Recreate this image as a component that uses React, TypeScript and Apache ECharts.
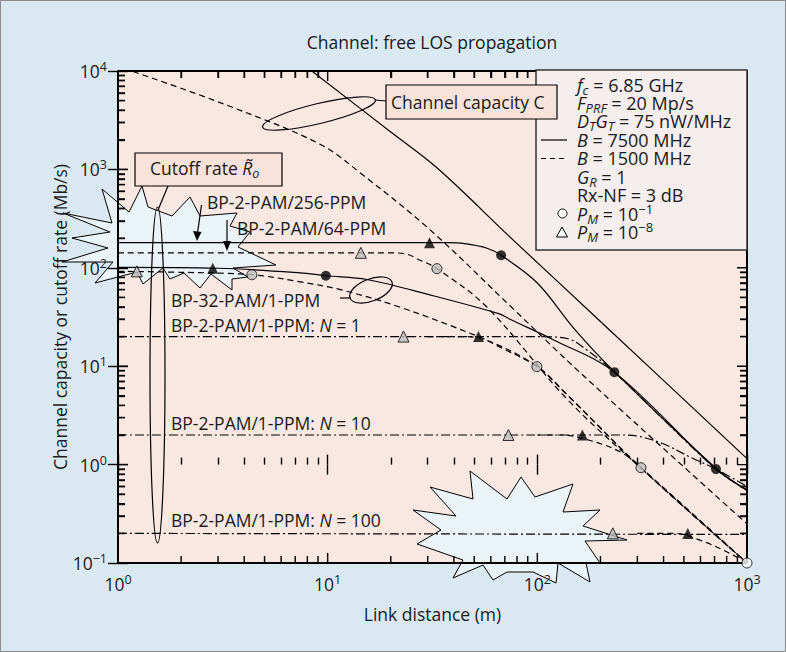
import { useEffect, useRef } from 'react';
import * as echarts from 'echarts';

type Pt = [number, number];

// ---------- data (x: link distance in m, y: Mb/s) ----------
const capacityB7500: Pt[] = [[8.4, 10000], [20, 2400], [33, 1050], [77, 190], [200, 28.5], [1000, 1.15]];
const capacityB1500: Pt[] = [[1.18, 9880], [3.3, 4500], [9.2, 1800], [15, 850], [31, 240], [77, 38], [160, 8.6], [1000, 0.25]];

const ppm256B7500: Pt[] = [[1, 180], [10, 180], [30, 180], [37, 180], [45, 176], [57.6, 158], [67.2, 134], [100, 70], [150, 24], [233, 8.8], [711, 0.92], [1000, 0.55]];
const pam32B7500: Pt[] = [[1, 101], [3, 99], [7.4, 89], [9.8, 83], [15.4, 76], [31.8, 52], [66, 34], [74, 30], [119, 18.6], [233, 8.7], [711, 0.9], [1000, 0.55]];
const n1B7500: Pt[] = [[1, 20], [30, 20], [100, 20], [140, 19], [173, 14.5], [233, 8.7], [711, 0.9], [1000, 0.55]];
const n10B7500: Pt[] = [[1, 2], [100, 2], [250, 2], [300, 1.95], [398, 1.63], [536, 1.19], [711, 0.9], [1000, 0.6]];
const n100B7500: Pt[] = [[1, 0.2], [1000, 0.195]];

const ppm64B1500: Pt[] = [[1, 142], [10, 142], [20, 142], [24, 137], [26.6, 124], [33.2, 98], [57.6, 39.7], [139, 4.6], [312, 0.92], [1000, 0.1]];
const pam32B1500: Pt[] = [[1, 92], [2, 90], [4.35, 85], [7.4, 72], [11.5, 60], [22, 40], [53, 19.8], [66, 15.7], [99.5, 9.9], [139, 5.1], [312, 0.93], [1000, 0.1]];
const n1B1500: Pt[] = [[30, 20], [45, 20], [57.6, 18.3], [99.5, 10], [139, 5.1], [312, 0.93], [1000, 0.1]];
const n10B1500: Pt[] = [[100, 2], [130, 2], [172, 1.8], [248, 1.35], [312, 0.93], [1000, 0.1]];
const n100B1500: Pt[] = [[300, 0.2], [450, 0.2], [600, 0.17], [800, 0.13], [1000, 0.1]];

// markers: P_M = 1e-8 (triangles), P_M = 1e-1 (circles)
const triB7500: Pt[] = [[2.83, 99], [30.6, 180], [52.4, 20], [164, 2], [522, 0.2]];
const triB1500: Pt[] = [[1.23, 92], [14.4, 142], [23, 20], [72.8, 2], [229, 0.2]];
const circB7500: Pt[] = [[9.8, 83], [67.2, 134], [233, 8.7], [711, 0.9]];
const circB1500: Pt[] = [[4.35, 85], [33.2, 98], [99.5, 9.9], [312, 0.93]];
const circOpen: Pt[] = [[1000, 0.1]];

const X_MIN = 1, X_MAX = 1000, Y_MIN = 0.1, Y_MAX = 10000;
const xTickValues: number[] = [];
for (const d of [1, 10, 100]) for (let m = 1; m <= 9; m++) xTickValues.push(m * d);
xTickValues.push(1000);
const yTickValues: number[] = [];
for (const d of [0.1, 1, 10, 100, 1000]) for (let m = 1; m <= 9; m++) yTickValues.push(+(m * d).toPrecision(3));
yTickValues.push(10000);

// layout
const GRID = { left: 118, top: 71, width: 629, height: 492 };
const X_DECADE_PX = GRID.width / Math.log10(X_MAX / X_MIN);
const Y_DECADE_PX = GRID.height / Math.log10(Y_MAX / Y_MIN);

const FONT = '"Open Sans", "Noto Sans", sans-serif';
const FS = 17.5;
const LFS = 18;
const INK = '#1a1a1a';

const RICH: any = {
  i: { fontStyle: 'italic', fontSize: FS, fontFamily: FONT, fill: INK, color: INK, lineHeight: 30 },
  sub: { fontStyle: 'italic', fontSize: 12.5, fontFamily: FONT, fill: INK, color: INK, verticalAlign: 'middle', padding: [10, 0, 0, 0] },
  sup: { fontSize: 12.5, fontFamily: FONT, fill: INK, color: INK, verticalAlign: 'middle', padding: [0, 0, 10, 0] },
};
const LRICH: any = {
  i: { ...RICH.i, fontSize: LFS },
  sub: { ...RICH.sub, fontSize: 13 },
  sup: { ...RICH.sup, fontSize: 13 },
};

const DASH = [6, 4];
const DASHDOT = [9, 3, 2, 3];

function lineSeries(name: string, data: Pt[], type: any) {
  return {
    type: 'line', name, data, symbol: 'none', showSymbol: false,
    smooth: 0.35, silent: true, z: 3,
    lineStyle: { color: '#000', width: 1.2, type },
  };
}

function isMajor(v: number) {
  const l = Math.log10(v);
  return Math.abs(l - Math.round(l)) < 1e-6;
}

function supFmt(v: number) {
  const e = Math.round(Math.log10(v));
  return '10{sup|' + (e < 0 ? '\u2212' + -e : String(e)) + '}';
}

function txt(x: number, y: number, text: string, extra: any = {}, z = 40) {
  return {
    type: 'text', x, y, z, silent: true,
    style: { text, fill: INK, fontSize: FS, fontFamily: FONT, verticalAlign: 'middle', align: 'left', lineHeight: 30, rich: RICH, ...extra },
  };
}
function ltxt(x: number, y: number, text: string) {
  return txt(x, y, text, { fontSize: LFS, rich: LRICH });
}

// tick marks, method 1: hidden linear axes over log10 space carrying the ticks as customValues
const xMajorExp = xTickValues.filter(isMajor).map((v) => Math.log10(v));
const xMinorExp = xTickValues.filter((v) => !isMajor(v)).map((v) => Math.log10(v));
const yMajorExp = yTickValues.filter(isMajor).map((v) => Math.log10(v));
const yMinorExp = yTickValues.filter((v) => !isMajor(v)).map((v) => Math.log10(v));
function tickAxis(min: number, max: number, position: string, values: number[], length: number) {
  return {
    type: 'value', min, max, position, z: 30, silent: true,
    axisLine: { show: false }, axisLabel: { show: false }, splitLine: { show: false },
    axisTick: { show: true, inside: true, length, customValues: values, lineStyle: { color: '#000', width: 1.4 } },
  };
}

// tick marks, method 2: one continuous polyline tracing the frame with a spike at every tick
function tickLen(v: number) { return isMajor(v) ? 10 : 7; }
const tickPath: Pt[] = [];
for (const v of xTickValues) {
  const f = Math.pow(10, tickLen(v) / Y_DECADE_PX);
  tickPath.push([v, Y_MIN], [v, Y_MIN * f], [v, Y_MIN]);
}
for (const v of yTickValues) {
  const f = Math.pow(10, tickLen(v) / X_DECADE_PX);
  tickPath.push([X_MAX, v], [X_MAX / f, v], [X_MAX, v]);
}
for (const v of [...xTickValues].reverse()) {
  const f = Math.pow(10, tickLen(v) / Y_DECADE_PX);
  tickPath.push([v, Y_MAX], [v, Y_MAX / f], [v, Y_MAX]);
}
for (const v of [...yTickValues].reverse()) {
  const f = Math.pow(10, tickLen(v) / X_DECADE_PX);
  tickPath.push([X_MIN, v], [X_MIN * f, v], [X_MIN, v]);
}
const frameData: Pt[] = [[X_MIN, Y_MIN], [X_MAX, Y_MIN], [X_MAX, Y_MAX], [X_MIN, Y_MAX], [X_MIN, Y_MIN]];

const starLeft = [[63, 213], [112, 223], [102, 189], [129, 212], [142, 186], [148, 207], [172, 216], [190, 197], [200, 216], [237, 213], [230, 226], [250, 232], [238, 247], [276, 265], [233, 268], [248, 277], [232, 279], [232, 290], [211, 274], [200, 288], [184, 273], [170, 279], [163, 268], [143, 284], [137, 272], [95, 283], [113, 262], [62, 262], [108, 248], [72, 238], [110, 232]];
const starBottom = [[430, 487], [473, 499], [470, 471], [507, 499], [521, 477], [535, 497], [573, 484], [563, 512], [600, 510], [583, 526], [627, 540], [585, 541], [600, 563], [586, 563], [590, 582], [558, 563], [556, 583], [533, 572], [507, 572], [493, 580], [483, 565], [453, 578], [463, 560], [417, 544], [441, 530], [413, 510], [456, 516]];

export default function App() {
  const ref = useRef<HTMLDivElement>(null);
  useEffect(() => {
    if (!ref.current) return;
    const chart = echarts.init(ref.current, undefined, { renderer: 'svg' });
    const axisLabel = {
      formatter: supFmt, fontSize: FS, fontFamily: FONT, color: INK, lineHeight: 22,
      showMinLabel: true, showMaxLabel: true,
      rich: { sup: { fontSize: 12.5, fontFamily: FONT, color: INK, lineHeight: 12, verticalAlign: 'top' } },
    };
    const graphic: any[] = [
      { type: 'rect', z: 50, silent: true, shape: { x: 0.5, y: 0.5, width: 785, height: 651 }, style: { fill: 'none', stroke: '#8a8a8a', lineWidth: 1 } },
      // starbursts
      { type: 'polygon', z: 1, silent: true, shape: { points: starLeft }, style: { fill: '#eaf3f7', stroke: '#000', lineWidth: 1 } },
      { type: 'polygon', z: 1, silent: true, shape: { points: starBottom }, style: { fill: '#eaf3f7', stroke: '#000', lineWidth: 1 } },
      // title
      txt(432, 42, 'Channel: free LOS propagation', { align: 'center' }),
      // legend box
      { type: 'rect', z: 35, silent: true, shape: { x: 536, y: 70, width: 211, height: 180 }, style: { fill: '#f6eeec', stroke: '#333', lineWidth: 1.5 } },
      ltxt(577, 85, '{i|f}{sub|c} = 6.85 GHz'),
      ltxt(577, 103, '{i|F}{sub|PRF} = 20 Mp/s'),
      ltxt(577, 121, '{i|D}{sub|T}{i|G}{sub|T} = 75 nW/MHz'),
      ltxt(577, 139.5, '{i|B} = 7500 MHz'),
      ltxt(577, 158, '{i|B} = 1500 MHz'),
      ltxt(577, 176.5, '{i|G}{sub|R} = 1'),
      ltxt(577, 195, 'Rx-NF = 3 dB'),
      ltxt(577, 213.5, '{i|P}{sub|M} = 10{sup|\u22121}'),
      ltxt(577, 232, '{i|P}{sub|M} = 10{sup|\u22128}'),
      { type: 'line', z: 40, silent: true, shape: { x1: 541, y1: 140, x2: 567, y2: 140 }, style: { stroke: '#000', lineWidth: 1.2 } },
      { type: 'line', z: 40, silent: true, shape: { x1: 541, y1: 158.5, x2: 567, y2: 158.5 }, style: { stroke: '#000', lineWidth: 1.2, lineDash: [5, 4] } },
      { type: 'circle', z: 40, silent: true, shape: { cx: 562.5, cy: 213.5, r: 4.5 }, style: { fill: '#fff', stroke: '#000', lineWidth: 1 } },
      { type: 'polygon', z: 40, silent: true, shape: { points: [[562, 227], [567.5, 237], [556.5, 237]] }, style: { fill: '#fff', stroke: '#000', lineWidth: 1 } },
      // channel capacity annotation
      { type: 'ellipse', z: 36, silent: true, x: 319, y: 113.5, rotation: 0.236, shape: { cx: 0, cy: 0, rx: 58, ry: 10 }, style: { fill: 'none', stroke: '#000', lineWidth: 1.2 } },
      { type: 'line', z: 36, silent: true, shape: { x1: 375, y1: 100, x2: 386, y2: 101 }, style: { stroke: '#000', lineWidth: 1.2 } },
      { type: 'rect', z: 37, silent: true, shape: { x: 386, y: 85, width: 171, height: 34 }, style: { fill: '#f8e2da', stroke: '#000', lineWidth: 1.2 } },
      txt(391, 102, 'Channel capacity C', {}, 41),
      // cutoff rate annotation
      { type: 'rect', z: 37, silent: true, shape: { x: 135, y: 153, width: 147, height: 33 }, style: { fill: '#f8e2da', stroke: '#000', lineWidth: 1.2 } },
      txt(150, 168, 'Cutoff rate {i|R\u0303}{sub|o}', {}, 41),
      { type: 'line', z: 36, silent: true, shape: { x1: 168, y1: 186, x2: 158, y2: 210 }, style: { stroke: '#000', lineWidth: 1.2 } },
      { type: 'ellipse', z: 36, silent: true, shape: { cx: 157.5, cy: 375, rx: 7.5, ry: 168 }, style: { fill: 'none', stroke: '#000', lineWidth: 1.2 } },
      // scheme labels
      txt(207, 202, 'BP-2-PAM/256-PPM'),
      { type: 'line', z: 36, silent: true, shape: { x1: 201.5, y1: 205, x2: 197.5, y2: 233 }, style: { stroke: '#000', lineWidth: 1.2 } },
      { type: 'polygon', z: 36, silent: true, shape: { points: [[197, 241], [193, 231], [201.5, 232]] }, style: { fill: '#000' } },
      txt(237, 228, 'BP-2-PAM/64-PPM'),
      { type: 'line', z: 36, silent: true, shape: { x1: 227, y1: 220, x2: 227, y2: 243 }, style: { stroke: '#000', lineWidth: 1.2 } },
      { type: 'polygon', z: 36, silent: true, shape: { points: [[227, 251], [223, 241], [231, 241]] }, style: { fill: '#000' } },
      txt(171, 300, 'BP-32-PAM/1-PPM'),
      { type: 'line', z: 36, silent: true, shape: { x1: 340, y1: 298, x2: 351, y2: 298 }, style: { stroke: '#000', lineWidth: 1.2 } },
      { type: 'ellipse', z: 36, silent: true, x: 371, y: 290, rotation: 0.37, shape: { cx: 0, cy: 0, rx: 22.5, ry: 11 }, style: { fill: 'none', stroke: '#000', lineWidth: 1.2 } },
      txt(171, 325, 'BP-2-PAM/1-PPM: {i|N} = 1'),
      txt(171, 423, 'BP-2-PAM/1-PPM: {i|N} = 10'),
      txt(171, 520, 'BP-2-PAM/1-PPM: {i|N} = 100'),
    ];
    const option: any = {
      animation: false,
      backgroundColor: '#dae9f1',
      grid: { ...GRID, show: true, backgroundColor: '#f9e8e2', borderWidth: 0 },
      xAxis: [
        {
          type: 'log', logBase: 10, min: X_MIN, max: X_MAX, splitNumber: 3, position: 'bottom', z: 2,
          name: 'Link distance (m)', nameLocation: 'middle', nameGap: 42, nameMoveOverlap: false,
          nameTextStyle: { fontSize: FS, fontFamily: FONT, color: INK },
          axisLine: { show: false }, axisTick: { show: false }, splitLine: { show: false },
          axisLabel: { ...axisLabel, margin: 10 },
        },
        tickAxis(0, 3, 'bottom', xMajorExp, 10),
        tickAxis(0, 3, 'bottom', xMinorExp, 7),
        tickAxis(0, 3, 'top', xMajorExp, 10),
        tickAxis(0, 3, 'top', xMinorExp, 7),
      ],
      yAxis: [
        {
          type: 'log', logBase: 10, min: Y_MIN, max: Y_MAX, splitNumber: 5, position: 'left', z: 2,
          name: 'Channel capacity or cutoff rate (Mb/s)', nameLocation: 'middle', nameGap: 49, nameRotate: 90, nameMoveOverlap: false,
          nameTextStyle: { fontSize: FS, fontFamily: FONT, color: INK },
          axisLine: { show: false }, axisTick: { show: false }, splitLine: { show: false },
          axisLabel: { ...axisLabel, margin: 11 },
        },
        tickAxis(-1, 4, 'left', yMajorExp, 10),
        tickAxis(-1, 4, 'left', yMinorExp, 7),
        tickAxis(-1, 4, 'right', yMajorExp, 10),
        tickAxis(-1, 4, 'right', yMinorExp, 7),
      ],
      series: [
        lineSeries('Capacity B=7500', capacityB7500, 'solid'),
        lineSeries('Capacity B=1500', capacityB1500, DASH),
        lineSeries('BP-2-PAM/256-PPM', ppm256B7500, 'solid'),
        lineSeries('BP-32-PAM/1-PPM B=7500', pam32B7500, 'solid'),
        lineSeries('N=1 B=7500', n1B7500, DASHDOT),
        lineSeries('N=10 B=7500', n10B7500, DASHDOT),
        lineSeries('N=100 B=7500', n100B7500, DASHDOT),
        lineSeries('BP-2-PAM/64-PPM', ppm64B1500, DASH),
        lineSeries('BP-32-PAM/1-PPM B=1500', pam32B1500, DASH),
        lineSeries('N=1 B=1500', n1B1500, DASH),
        lineSeries('N=10 B=1500', n10B1500, DASH),
        lineSeries('N=100 B=1500', n100B1500, DASH),
        { type: 'scatter', data: triB7500, symbol: 'triangle', symbolSize: 11, z: 4, silent: true, itemStyle: { color: '#000' } },
        { type: 'scatter', data: triB1500, symbol: 'triangle', symbolSize: 11, z: 4, silent: true, itemStyle: { color: '#bdbdbd', borderColor: '#000', borderWidth: 1 } },
        { type: 'scatter', data: circB7500, symbol: 'circle', symbolSize: 10, z: 4, silent: true, itemStyle: { color: '#000' } },
        { type: 'scatter', data: circB1500, symbol: 'circle', symbolSize: 10, z: 4, silent: true, itemStyle: { color: '#bdbdbd', borderColor: '#000', borderWidth: 1 } },
        {
          type: 'line', name: 'ticks', data: tickPath, symbol: 'none', showSymbol: false,
          z: 30, clip: false, silent: true, lineStyle: { color: '#000', width: 1.4, join: 'bevel', cap: 'butt' },
        },
        {
          type: 'line', name: 'frame', data: frameData, symbol: 'none', showSymbol: false,
          z: 31, clip: false, silent: true, lineStyle: { color: '#000', width: 2 },
        },
        { type: 'scatter', data: circOpen, symbol: 'circle', symbolSize: 10, z: 32, silent: true, clip: false, itemStyle: { color: '#fff', borderColor: '#000', borderWidth: 1 } },
      ],
      graphic,
    };
    chart.setOption(option);
    return () => chart.dispose();
  }, []);
  return <div ref={ref} style={{ position: 'absolute', left: 0, top: 0, width: 786, height: 652 }} />;
}
